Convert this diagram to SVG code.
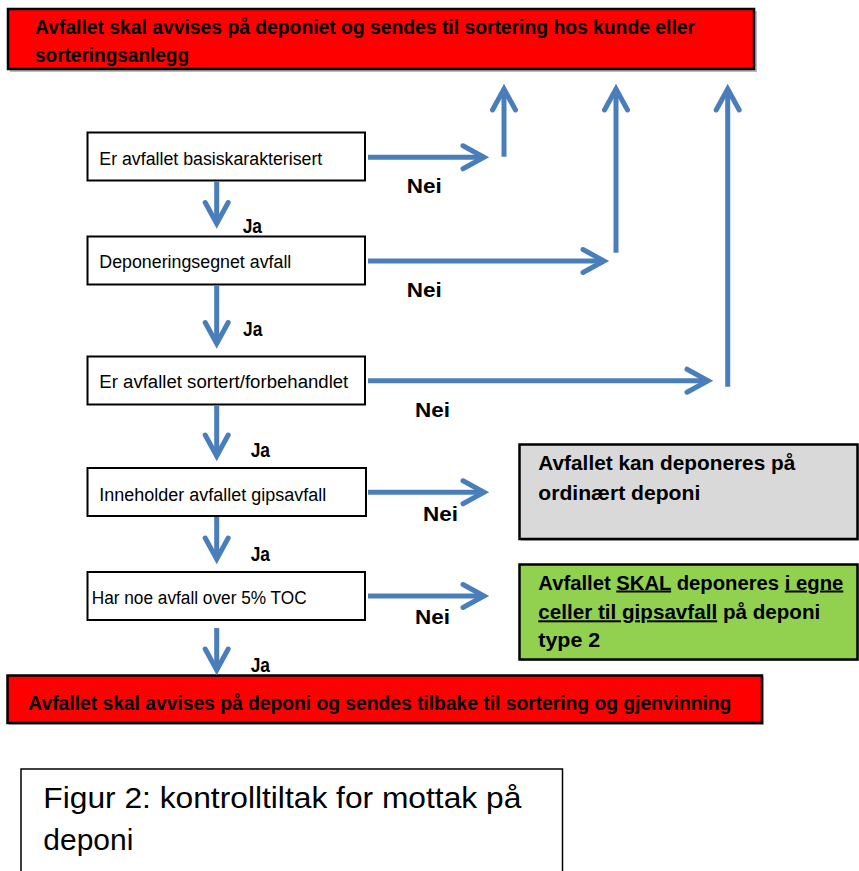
<svg xmlns="http://www.w3.org/2000/svg" width="859" height="871" viewBox="0 0 859 871">
<style>
.box{fill:#fff;stroke:#000;stroke-width:2}
.red{fill:#ff0000;stroke:#000;stroke-width:2.5}
.gray{fill:#d9d9d9;stroke:#000;stroke-width:2.5}
.green{fill:#92d050;stroke:#000;stroke-width:2.5}
.shadow{fill:#8c8c8c;opacity:0.6}
.nt{font-family:"Liberation Sans",Arial,sans-serif;font-size:18px;fill:#000}
.bt{font-family:"Liberation Sans",Arial,sans-serif;font-size:20px;font-weight:bold;fill:#000}
.lbl{font-family:"Liberation Sans",Arial,sans-serif;font-size:20px;font-weight:bold;fill:#000}
.cap{font-family:"Liberation Sans",Arial,sans-serif;font-size:29px;fill:#000}
.u{text-decoration:underline}
.conn{fill:none;stroke:#4a7ebb;stroke-width:5;stroke-linecap:butt}
</style>
<defs>
<marker id="ah" markerUnits="userSpaceOnUse" markerWidth="40" markerHeight="40" viewBox="-30 -20 40 40" refX="0" refY="0" orient="auto" overflow="visible">
<path d="M-21,-11.5 L0,0 L-21,11.5" fill="none" stroke="#4a7ebb" stroke-width="5" stroke-linecap="round" stroke-linejoin="miter"/>
</marker>
</defs>
<rect width="859" height="871" fill="#fff"/>

<g id="reject-top">
<rect class="shadow" x="10" y="11" width="747" height="61"/>
<rect class="red" x="8" y="9" width="746" height="60"/>
<text class="bt" x="35" y="33.5" textLength="660" lengthAdjust="spacingAndGlyphs">Avfallet skal avvises på deponiet og sendes til sortering hos kunde eller</text>
<text class="bt" x="35" y="61.5" textLength="154" lengthAdjust="spacingAndGlyphs">sorteringsanlegg</text>
</g>

<g id="n1">
<rect class="box" x="87.5" y="132.5" width="277.5" height="48"/>
<text class="nt" x="99.3" y="165" textLength="223" lengthAdjust="spacingAndGlyphs">Er avfallet basiskarakterisert</text>
</g>
<g id="n2">
<rect class="box" x="87.5" y="236.5" width="277.5" height="48"/>
<text class="nt" x="99.3" y="268" textLength="192" lengthAdjust="spacingAndGlyphs">Deponeringsegnet avfall</text>
</g>
<g id="n3">
<rect class="box" x="87.5" y="356.5" width="277.5" height="48"/>
<text class="nt" x="99.3" y="388" textLength="249" lengthAdjust="spacingAndGlyphs">Er avfallet sortert/forbehandlet</text>
</g>
<g id="n4">
<rect class="box" x="87.5" y="468" width="278.5" height="48"/>
<text class="nt" x="99.3" y="500.5" textLength="227" lengthAdjust="spacingAndGlyphs">Inneholder avfallet gipsavfall</text>
</g>
<g id="n5">
<rect class="box" x="87.5" y="572" width="277.5" height="48"/>
<text class="nt" x="91.7" y="604" textLength="215" lengthAdjust="spacingAndGlyphs">Har noe avfall over 5% TOC</text>
</g>

<g id="ordinary">
<rect class="shadow" x="521" y="446" width="340" height="95"/>
<rect class="gray" x="519.5" y="444.5" width="338" height="94.5"/>
<text class="bt" x="538.3" y="470" textLength="257" lengthAdjust="spacingAndGlyphs">Avfallet kan deponeres på</text>
<text class="bt" x="538.3" y="500" textLength="162" lengthAdjust="spacingAndGlyphs">ordinært deponi</text>
</g>

<g id="gypsum">
<rect class="shadow" x="521" y="566" width="340" height="95"/>
<rect class="green" x="519.5" y="564.5" width="338" height="95"/>
<text class="bt" x="538.3" y="589.5" textLength="305" lengthAdjust="spacingAndGlyphs">Avfallet <tspan class="u">SKAL</tspan> deponeres <tspan class="u">i egne</tspan></text>
<text class="bt" x="538.3" y="619.3" textLength="282" lengthAdjust="spacingAndGlyphs"><tspan class="u">celler til gipsavfall</tspan> på deponi</text>
<text class="bt" x="538.3" y="646.7" textLength="62" lengthAdjust="spacingAndGlyphs">type 2</text>
</g>

<g id="reject-bottom">
<rect class="shadow" x="9" y="677" width="755" height="48"/>
<rect class="red" x="7.5" y="675.5" width="754.5" height="47.5"/>
<text class="bt" x="28.3" y="710" font-size="21" textLength="703" lengthAdjust="spacingAndGlyphs">Avfallet skal avvises på deponi og sendes tilbake til sortering og gjenvinning</text>
</g>

<g id="caption">
<rect x="21" y="769" width="541.5" height="110" fill="#fff" stroke="#000" stroke-width="1.5"/>
<text class="cap" x="43.3" y="807.5" textLength="478" lengthAdjust="spacingAndGlyphs">Figur 2: kontrolltiltak for mottak på</text>
<text class="cap" x="43.3" y="850" textLength="90" lengthAdjust="spacingAndGlyphs">deponi</text>
</g>

<g id="connectors">
<path class="conn" d="M216.7,181 V223.5" marker-end="url(#ah)"/>
<path class="conn" d="M216.7,285 V343.5" marker-end="url(#ah)"/>
<path class="conn" d="M216.7,405 V456" marker-end="url(#ah)"/>
<path class="conn" d="M216.7,517 V559" marker-end="url(#ah)"/>
<path class="conn" d="M216.7,628 V670" marker-end="url(#ah)"/>

<path class="conn" d="M368,157.3 H484" marker-end="url(#ah)"/>
<path class="conn" d="M368,261 H604" marker-end="url(#ah)"/>
<path class="conn" d="M368,380.7 H708" marker-end="url(#ah)"/>
<path class="conn" d="M368,492.3 H484" marker-end="url(#ah)"/>
<path class="conn" d="M368,596 H484" marker-end="url(#ah)"/>

<path class="conn" d="M504,156.7 V89" marker-end="url(#ah)"/>
<path class="conn" d="M616,252.7 V89" marker-end="url(#ah)"/>
<path class="conn" d="M727.7,386.7 V89" marker-end="url(#ah)"/>

<text class="lbl" x="242.7" y="233" textLength="19.3" lengthAdjust="spacingAndGlyphs">Ja</text>
<text class="lbl" x="243" y="335.5" textLength="19.3" lengthAdjust="spacingAndGlyphs">Ja</text>
<text class="lbl" x="250.7" y="456.7" textLength="19.3" lengthAdjust="spacingAndGlyphs">Ja</text>
<text class="lbl" x="250.7" y="560.7" textLength="19.3" lengthAdjust="spacingAndGlyphs">Ja</text>
<text class="lbl" x="250.7" y="672" textLength="19.3" lengthAdjust="spacingAndGlyphs">Ja</text>

<text class="lbl" x="406.7" y="193.3" textLength="35" lengthAdjust="spacingAndGlyphs">Nei</text>
<text class="lbl" x="406.7" y="297.3" textLength="35" lengthAdjust="spacingAndGlyphs">Nei</text>
<text class="lbl" x="415" y="417" textLength="35" lengthAdjust="spacingAndGlyphs">Nei</text>
<text class="lbl" x="423" y="520.7" textLength="35" lengthAdjust="spacingAndGlyphs">Nei</text>
<text class="lbl" x="415" y="624" textLength="35" lengthAdjust="spacingAndGlyphs">Nei</text>
</g>
</svg>
